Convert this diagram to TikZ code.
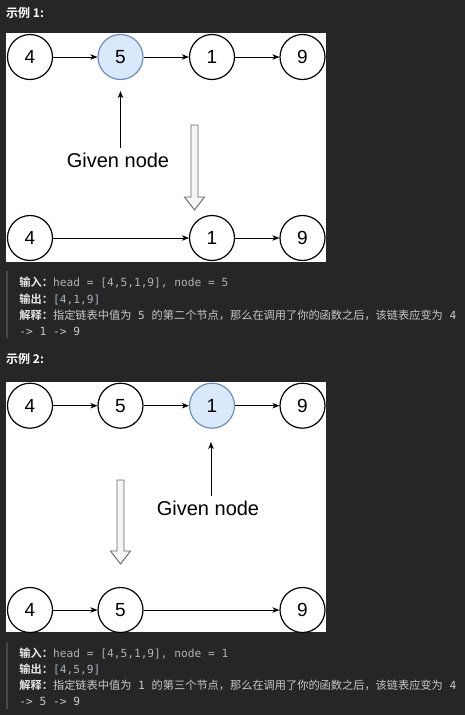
\documentclass[tikz,border=0pt]{standalone}
\usepackage{fontspec}
\setmainfont{Liberation Sans}
\newfontfamily\cjk{Noto Sans CJK SC}
\newfontfamily\cjkb{Noto Sans CJK SC Bold}
\newfontfamily\mono{DejaVu Sans Mono}
\usetikzlibrary{arrows.meta}
\definecolor{bg}{HTML}{262626}
\definecolor{hlfill}{HTML}{DAE8FC}
\definecolor{hldraw}{HTML}{6C8EBF}
\definecolor{labelc}{HTML}{E8E8E8}
\definecolor{codec}{HTML}{B0B0B0}
\definecolor{outc}{HTML}{A8B4C2}
\definecolor{textc}{HTML}{C8C8C8}
\definecolor{barc}{HTML}{484848}
\definecolor{hollowfill}{HTML}{F5F5F5}
\definecolor{hollowdraw}{HTML}{666666}
\tikzset{
  listnode/.style={circle, draw=black, line width=1.2pt, fill=white, minimum size=45pt, inner sep=0pt, font=\fontsize{19}{19}\selectfont},
  hlnode/.style={listnode, draw=hldraw, fill=hlfill},
  link/.style={draw=black, line width=0.9pt, -{Stealth[length=7pt,width=5.5pt,inset=2pt]}},
  panel/.style={fill=white, draw=none},
  header/.style={anchor=base west, inner sep=0pt, text=white, font=\cjkb\fontsize{12}{12}\selectfont},
  txt/.style={anchor=base west, inner sep=0pt, font=\fontsize{11.2}{11.2}\selectfont},
  given/.style={inner sep=0pt, font=\fontsize{20}{20}\selectfont},
  hollow/.style={fill=hollowfill, draw=hollowdraw, line width=0.9pt, line join=miter},
  qbar/.style={draw=barc, line width=2pt}
}
\newcommand{\lab}[1]{{\cjkb\color{labelc}#1}}
\begin{document}
\begin{tikzpicture}[x=1pt,y=-1pt]
\fill[bg] (0,0) rectangle (465,715);
\useasboundingbox (0,0) rectangle (465,715);

% ===== Example 1 =====
\node[header] (h1) at (6,17.5) {示例 1:};
\fill[panel] (6,33) rectangle (326,262);
\node[listnode] (a4) at (30,57) {4};
\node[hlnode]   (a5) at (120.5,57) {5};
\node[listnode] (a1) at (212,57) {1};
\node[listnode] (a9) at (302.5,57) {9};
\draw[link] (a4) -- (a5);
\draw[link] (a5) -- (a1);
\draw[link] (a1) -- (a9);
\node[given] (g1) at (118,160) {Given node};
\coordinate (g1s) at (120.5,148);
\coordinate (g1e) at (120.5,91);
\draw[link] (g1s) -- (g1e);
\draw[hollow] (191,125) -- (198,125) -- (198,197) -- (204.5,197) -- (194.5,210) -- (184.5,197) -- (191,197) -- cycle;
\node[listnode] (b4) at (30,238) {4};
\node[listnode] (b1) at (212,238) {1};
\node[listnode] (b9) at (302.5,238) {9};
\draw[link] (b4) -- (b1);
\draw[link] (b1) -- (b9);

\draw[qbar] (7,271) -- (7,338);
\node[txt] (i1) at (19.3,286.5) {\lab{输入：}{\mono\color{codec}head = [4,5,1,9], node = 5}};
\node[txt] (o1) at (19.3,303) {\lab{输出：}{\mono\color{outc}[4,1,9]}};
\node[txt] (e1) at (19.3,319.5) {\lab{解释：}{\color{textc}\cjk 指定链表中值为{\mono\ 5\ }的第二个节点，那么在调用了你的函数之后，该链表应变为{\mono\ 4}}};
\node[txt] (f1) at (19.3,335) {{\mono\color{textc}-> 1 -> 9}};

% ===== Example 2 =====
\node[header] (h2) at (6,363.5) {示例 2:};
\fill[panel] (6,382) rectangle (326,632);
\node[listnode] (c4) at (30,405.7) {4};
\node[listnode] (c5) at (120.5,405.7) {5};
\node[hlnode]   (c1) at (212,405.7) {1};
\node[listnode] (c9) at (302.5,405.7) {9};
\draw[link] (c4) -- (c5);
\draw[link] (c5) -- (c1);
\draw[link] (c1) -- (c9);
\node[given] (g2) at (208,508) {Given node};
\coordinate (g2s) at (211,496);
\coordinate (g2e) at (211,442);
\draw[link] (g2s) -- (g2e);
\draw[hollow] (117,480) -- (124,480) -- (124,551) -- (130.5,551) -- (120.5,564) -- (110.5,551) -- (117,551) -- cycle;
\node[listnode] (d4) at (30,610) {4};
\node[listnode] (d5) at (120.5,610) {5};
\node[listnode] (d9) at (302.5,610) {9};
\draw[link] (d4) -- (d5);
\draw[link] (d5) -- (d9);

\draw[qbar] (7,642) -- (7,709);
\node[txt] (i2) at (19.3,657.8) {\lab{输入：}{\mono\color{codec}head = [4,5,1,9], node = 1}};
\node[txt] (o2) at (19.3,673.5) {\lab{输出：}{\mono\color{outc}[4,5,9]}};
\node[txt] (e2) at (19.3,689.5) {\lab{解释：}{\color{textc}\cjk 指定链表中值为{\mono\ 1\ }的第三个节点，那么在调用了你的函数之后，该链表应变为{\mono\ 4}}};
\node[txt] (f2) at (19.3,705.5) {{\mono\color{textc}-> 5 -> 9}};
\end{tikzpicture}
\end{document}
